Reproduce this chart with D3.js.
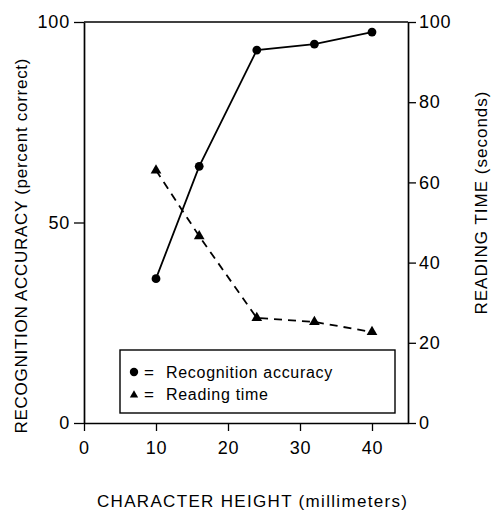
<!DOCTYPE html>
<html>
<head>
<meta charset="utf-8">
<script src="https://cdn.jsdelivr.net/npm/d3@7"></script>
<style>
  body { margin: 0; background: #fff; }
  svg { display: block; font-family: "Liberation Sans", Arial, sans-serif; }
</style>
</head>
<body>
<svg id="chart"></svg>
<script>
const width = 492, height = 512;
const margin = { top: 22, right: 84, bottom: 89, left: 84 };

// Data
const charHeight = [10, 16, 24, 32, 40]; // millimeters
const accuracy = [36, 64, 93, 94.5, 97.5]; // percent correct
const readingTime = [63, 46.6, 26.2, 25.2, 22.7]; // seconds
const xTicks = [0, 10, 20, 30, 40];
const leftTicks = [0, 50, 100];
const rightTicks = [0, 20, 40, 60, 80, 100];
const legendItems = ["Recognition accuracy", "Reading time"];

const svg = d3.select("#chart").attr("width", width).attr("height", height);

const x = d3.scaleLinear().domain([0, 45]).range([margin.left, width - margin.right]);
const yL = d3.scaleLinear().domain([0, 100]).range([height - margin.bottom, margin.top]);
const yR = d3.scaleLinear().domain([0, 100]).range([height - margin.bottom, margin.top]);

// frame top line
svg.append("line")
    .attr("x1", x(0)).attr("x2", x(45))
    .attr("y1", yL(100)).attr("y2", yL(100))
    .attr("stroke", "#000").attr("stroke-width", 1.3);

const xAxis = svg.append("g")
    .attr("transform", `translate(0,${height - margin.bottom})`)
    .call(d3.axisBottom(x).tickValues(xTicks).tickSize(8).tickPadding(10).tickSizeOuter(0));

const leftAxis = svg.append("g")
    .attr("transform", `translate(${margin.left},0)`)
    .call(d3.axisLeft(yL).tickValues(leftTicks).tickSize(10).tickPadding(4).tickSizeOuter(0));

const rightAxis = svg.append("g")
    .attr("transform", `translate(${width - margin.right},0)`)
    .call(d3.axisRight(yR).tickValues(rightTicks).tickSize(8).tickPadding(3).tickSizeOuter(0));

[xAxis, leftAxis, rightAxis].forEach(a => {
    a.select(".domain").attr("stroke-width", 1.7);
    a.selectAll(".tick line").attr("stroke-width", 1.3);
    a.selectAll(".tick text").attr("font-size", 18).attr("fill", "#000")
        .attr("letter-spacing", 0.8)
        .attr("font-family", "Liberation Sans, Arial, sans-serif");
});

// accuracy line (solid)
const lineAcc = d3.line()
    .x((d, i) => x(charHeight[i]))
    .y(d => yL(d));

svg.append("path")
    .datum(accuracy)
    .attr("d", lineAcc)
    .attr("fill", "none")
    .attr("stroke", "#000")
    .attr("stroke-width", 1.8);

svg.selectAll(".acc-dot")
    .data(accuracy)
    .join("circle")
    .attr("class", "acc-dot")
    .attr("cx", (d, i) => x(charHeight[i]))
    .attr("cy", d => yL(d))
    .attr("r", 4.4)
    .attr("fill", "#000");

// reading time line (dashed)
const lineRead = d3.line()
    .x((d, i) => x(charHeight[i]))
    .y(d => yR(d));

svg.append("path")
    .datum(readingTime)
    .attr("d", lineRead)
    .attr("fill", "none")
    .attr("stroke", "#000")
    .attr("stroke-width", 1.8)
    .attr("stroke-dasharray", "8,6");

const tri = d3.symbol().type(d3.symbolTriangle).size(50);
svg.selectAll(".rt-tri")
    .data(readingTime)
    .join("path")
    .attr("class", "rt-tri")
    .attr("d", tri)
    .attr("transform", (d, i) => `translate(${x(charHeight[i])},${yR(d)})`)
    .attr("fill", "#000");

// legend
const lg = svg.append("g");
lg.append("rect")
    .attr("x", 120).attr("y", 350)
    .attr("width", 275).attr("height", 63)
    .attr("fill", "#fff")
    .attr("stroke", "#000")
    .attr("stroke-width", 1.4);

lg.append("circle").attr("cx", 134).attr("cy", 372).attr("r", 4.2).attr("fill", "#000");
lg.append("path").attr("d", d3.symbol().type(d3.symbolTriangle).size(30))
    .attr("transform", "translate(134,395)").attr("fill", "#000");

lg.selectAll(".lg-eq")
    .data(legendItems)
    .join("text")
    .attr("class", "lg-eq")
    .attr("x", 144)
    .attr("y", (d, i) => 378 + i * 22)
    .attr("font-size", 17)
    .attr("fill", "#000")
    .text("=");

lg.selectAll(".lg-text")
    .data(legendItems)
    .join("text")
    .attr("class", "lg-text")
    .attr("x", 166)
    .attr("y", (d, i) => 378 + i * 22)
    .attr("font-size", 16)
    .attr("letter-spacing", 0.7)
    .attr("fill", "#000")
    .text(d => d);

// axis titles
svg.append("text")
    .attr("transform", "translate(27,246) rotate(-90)")
    .attr("text-anchor", "middle")
    .attr("font-size", 17)
    .attr("textLength", 375)
    .attr("lengthAdjust", "spacing")
    .attr("fill", "#000")
    .text("RECOGNITION ACCURACY (percent correct)");

svg.append("text")
    .attr("transform", "translate(487,203) rotate(-90)")
    .attr("text-anchor", "middle")
    .attr("font-size", 17)
    .attr("textLength", 223)
    .attr("lengthAdjust", "spacing")
    .attr("fill", "#000")
    .text("READING TIME (seconds)");

svg.append("text")
    .attr("x", 252)
    .attr("y", 507)
    .attr("text-anchor", "middle")
    .attr("font-size", 17)
    .attr("textLength", 310)
    .attr("lengthAdjust", "spacing")
    .attr("fill", "#000")
    .text("CHARACTER HEIGHT (millimeters)");
</script>
</body>
</html>
